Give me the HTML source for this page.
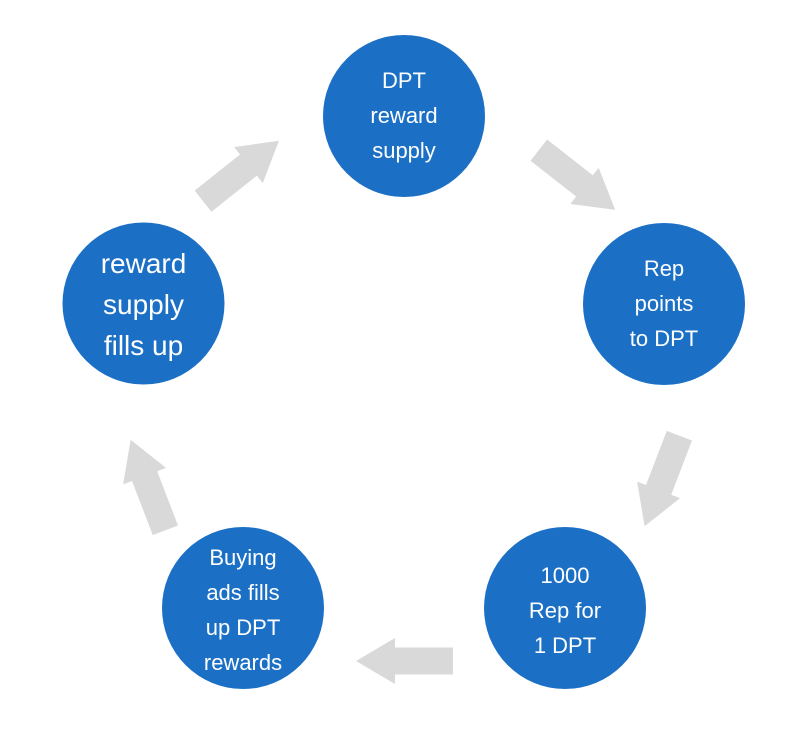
<!DOCTYPE html>
<html><head><style>
body{margin:0;background:#fff;}
svg text{font-family:"Liberation Sans",sans-serif;fill:#fff;text-anchor:middle;}
</style></head><body>
<svg width="800" height="750" viewBox="0 0 800 750" xmlns="http://www.w3.org/2000/svg">
<defs>
<polygon id="ar" points="-48.5,-13.5 9.5,-13.5 9.5,-23 48.5,0 9.5,23 9.5,13.5 -48.5,13.5" fill="#d9d9d9"/>
</defs>
<use href="#ar" transform="translate(241,171) rotate(-38.5)"/>
<use href="#ar" transform="translate(577,180) rotate(38)"/>
<use href="#ar" transform="translate(662,481) rotate(111)"/>
<use href="#ar" transform="translate(404.5,661) rotate(180)"/>
<use href="#ar" transform="translate(148,485) rotate(-111)"/>
<g fill="#1b70c6">
<circle cx="404" cy="116" r="81"/>
<circle cx="664" cy="304" r="81"/>
<circle cx="565" cy="608" r="81"/>
<circle cx="243" cy="608" r="81"/>
<circle cx="143.5" cy="303.5" r="81"/>
</g>
<g font-size="22">
<text x="404" y="88">DPT</text><text x="404" y="123">reward</text><text x="404" y="158">supply</text>
<text x="664" y="276">Rep</text><text x="664" y="311">points</text><text x="664" y="346">to DPT</text>
<text x="565" y="583">1000</text><text x="565" y="618">Rep for</text><text x="565" y="653">1 DPT</text>
<text x="243" y="565">Buying</text><text x="243" y="600">ads fills</text><text x="243" y="635">up DPT</text><text x="243" y="670">rewards</text>
</g>
<g font-size="28">
<text x="143.5" y="273">reward</text><text x="143.5" y="314">supply</text><text x="143.5" y="355">fills up</text>
</g>
</svg>
</body></html>
